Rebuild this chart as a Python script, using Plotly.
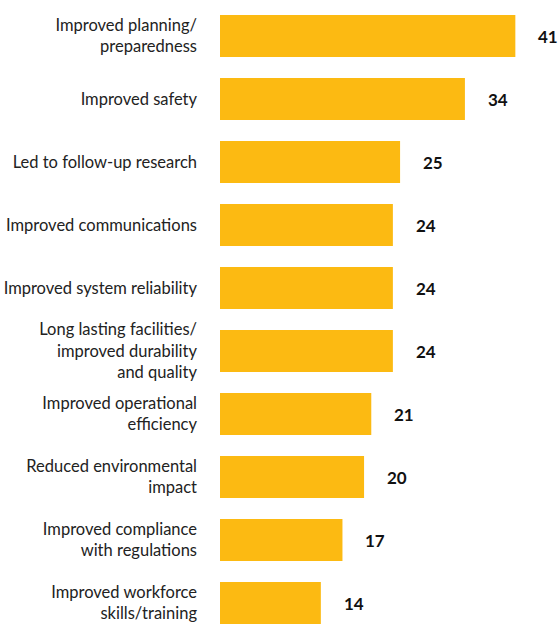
import plotly.graph_objects as go

categories = [
    "Improved planning/<br>preparedness",
    "Improved safety",
    "Led to follow-up research",
    "Improved communications",
    "Improved system reliability",
    "Long lasting facilities/<br>improved durability<br>and quality",
    "Improved operational<br>efficiency",
    "Reduced environmental<br>impact",
    "Improved compliance<br>with regulations",
    "Improved workforce<br>skills/training",
]
values = [41, 34, 25, 24, 24, 24, 21, 20, 17, 14]

BAR = "#FCBA12"
FONT = "Lato, 'Open Sans', sans-serif"

fig = go.Figure()
fig.add_trace(go.Bar(
    y=categories, x=values, orientation="h",
    marker=dict(color=BAR, line=dict(width=0)),
    width=0.667, hoverinfo="skip",
))

for c, v in zip(categories, values):
    fig.add_annotation(
        x=v, y=c, xref="x", yref="y", text=f"<b>{v}</b>",
        showarrow=False, xanchor="left", xshift=21,
        font=dict(family=FONT, size=17, color="#111111"),
    )

fig.update_layout(
    width=560, height=624,
    margin=dict(l=220, r=0, t=0, b=0),
    paper_bgcolor="white", plot_bgcolor="white",
    showlegend=False,
    font=dict(family=FONT, size=16.5, color="#222222"),
    xaxis=dict(range=[0, 47.2], visible=False, fixedrange=True),
    yaxis=dict(
        type="category", categoryorder="array", categoryarray=categories,
        range=[9 + 21 / 63, -36 / 63],
        showgrid=False, zeroline=False, showline=False, ticks="",
        ticklabelstandoff=22, fixedrange=True,
        tickfont=dict(family=FONT, size=16.5, color="#222222"),
    ),
)

fig.write_html(
    "out.html",
    config={"displayModeBar": False, "staticPlot": True},
    post_script="document.body.style.margin='0';document.body.style.overflow='hidden';",
)
